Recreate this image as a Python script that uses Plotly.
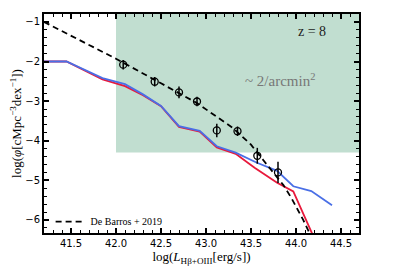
import plotly.graph_objects as go

# Observed data points
obs_x = [42.08, 42.43, 42.70, 42.90, 43.12, 43.35, 43.57, 43.80]
obs_y = [-2.08, -2.51, -2.78, -3.01, -3.74, -3.76, -4.38, -4.80]
obs_err = [0.12, 0.12, 0.15, 0.12, 0.17, 0.12, 0.20, 0.27]

# De Barros + 2019 dashed curve
db_x = [41.2, 41.5, 42.0, 42.5, 42.9, 43.3, 43.5, 43.64, 43.75, 43.86, 43.95, 44.01, 44.08, 44.15]
db_y = [-1.0, -1.35, -1.93, -2.55, -3.05, -3.68, -4.1, -4.5, -4.8, -5.12, -5.45, -5.7, -6.0, -6.33]

# Model curves
red_x = [41.2, 41.45, 41.85, 42.1, 42.3, 42.5, 42.7, 42.93, 43.12, 43.33, 43.54, 43.79, 43.97, 44.2]
red_y = [-2.0, -2.0, -2.45, -2.62, -2.85, -3.13, -3.65, -3.77, -4.17, -4.33, -4.68, -5.06, -5.28, -6.45]
blue_x = [41.2, 41.45, 41.85, 42.1, 42.3, 42.5, 42.7, 42.93, 43.12, 43.33, 43.56, 43.79, 43.97, 44.17, 44.4]
blue_y = [-2.0, -2.0, -2.42, -2.57, -2.83, -3.12, -3.63, -3.75, -4.14, -4.3, -4.55, -4.76, -5.15, -5.27, -5.63]

# Shaded survey region
region_x = [42.0, 44.7]
region_y = [-4.3, -0.8]

x_range = [41.2, 44.7]
y_range = [-6.33, -0.8]
x_ticks = [41.5, 42.0, 42.5, 43.0, 43.5, 44.0, 44.5]
y_ticks = [-6, -5, -4, -3, -2, -1]

fig = go.Figure()

fig.add_shape(type="rect", xref="x", yref="y",
              x0=region_x[0], x1=region_x[1], y0=region_y[0], y1=region_y[1],
              fillcolor="rgb(193,222,208)", line=dict(width=0), layer="below")

fig.add_trace(go.Scatter(x=red_x, y=red_y, mode="lines",
                         line=dict(color="#e8193c", width=1.8), showlegend=False))
fig.add_trace(go.Scatter(x=blue_x, y=blue_y, mode="lines",
                         line=dict(color="#4a6fe6", width=1.8), showlegend=False))
fig.add_trace(go.Scatter(x=db_x, y=db_y, mode="lines", name="De Barros + 2019",
                         line=dict(color="black", width=1.8, dash="6px,4px"), showlegend=True))
fig.add_trace(go.Scatter(x=obs_x, y=obs_y, mode="markers",
                         marker=dict(symbol="circle-open", size=7, color="black",
                                     line=dict(width=1.3, color="black")),
                         error_y=dict(type="data", array=obs_err, color="black",
                                      thickness=1.5, width=0),
                         showlegend=False))

fig.add_annotation(x=0.90, y=0.92, xref="paper", yref="paper", xanchor="right", yanchor="middle",
                   text="z = 8", showarrow=False,
                   font=dict(family="Liberation Serif", size=14, color="#222"))
fig.add_annotation(x=0.75, y=0.70, xref="paper", yref="paper", xanchor="center", yanchor="middle",
                   text="~ 2/arcmin<sup>2</sup>", showarrow=False,
                   font=dict(family="Liberation Serif", size=15, color="#777"))

axis_common = dict(showline=True, linecolor="black", linewidth=2, mirror="allticks",
                   ticks="inside", ticklen=5, tickwidth=1.5, tickcolor="black",
                   showgrid=False, zeroline=False, automargin=False,
                   tickfont=dict(family="DejaVu Sans", size=10, color="black"))

fig.update_xaxes(range=x_range, tickvals=x_ticks, ticktext=[f"{v:.1f}" for v in x_ticks],
                 minor=dict(dtick=0.1, ticks="inside", ticklen=3, tickwidth=1, tickcolor="black",
                            showgrid=False),
                 title=dict(text="log(<i>L</i><sub>Hβ+OIII</sub>[erg/s])",
                            font=dict(family="Liberation Serif", size=13, color="black"), standoff=2),
                 **axis_common)
fig.update_yaxes(range=y_range, tickvals=y_ticks, ticktext=["\u22126", "\u22125", "\u22124", "\u22123", "\u22122", "\u22121"],
                 minor=dict(dtick=0.2, ticks="inside", ticklen=3, tickwidth=1, tickcolor="black",
                            showgrid=False),
                 title=dict(text="log(<i>φ</i>[cMpc<sup>\u22123</sup>dex<sup>\u22121</sup>])",
                            font=dict(family="Liberation Serif", size=13, color="black"), standoff=2),
                 **axis_common)

# page body has an 8px margin; compensate so the plot area lands where the reference has it
fig.update_layout(width=391, height=258, margin=dict(l=36, r=40, t=6, b=33),
                  paper_bgcolor="white", plot_bgcolor="white",
                  legend=dict(x=0.021, y=-0.014, xanchor="left", yanchor="bottom",
                              bgcolor="rgba(0,0,0,0)", itemwidth=30,
                              font=dict(family="Liberation Serif", size=10, color="black")))

fig.write_html("out.html")
